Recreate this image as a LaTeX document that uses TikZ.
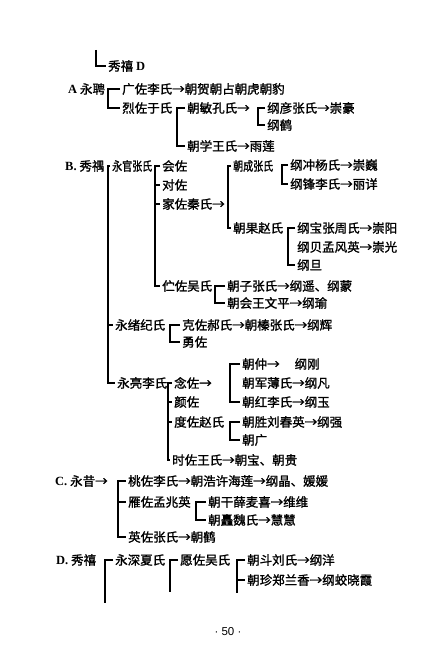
\documentclass[tikz,border=0pt]{standalone}
\usepackage{graphicx}
\usepackage{fontspec}
\setmainfont{Liberation Serif}
\newfontfamily\cjk{Noto Sans CJK SC}[FakeBold=1.4]
\newfontfamily\pagefont{Liberation Sans}
\newcommand{\lbl}[1]{{\rmfamily\bfseries #1}}
\newcommand{\narrow}[1]{\scalebox{0.8}[1]{#1}}

\tikzset{
  member/.style={anchor=west, inner xsep=2pt, inner ysep=1pt, font=\cjk\fontsize{12.5}{14}\selectfont},
  brk/.style={line width=1.3pt},
}

\begin{document}
\begin{tikzpicture}[x=1pt,y=-1pt]
    \useasboundingbox (0,0) rectangle (436,650);
    % columns of the brackets
    \coordinate (cA) at (108,0);
    \coordinate (cA2) at (177,0);
    \coordinate (cA21) at (258,0);
    \coordinate (cB) at (108,0);
    \coordinate (cB1) at (155,0);
    \coordinate (cB13) at (228,0);
    \coordinate (cB131) at (282,0);
    \coordinate (cB132) at (288,0);
    \coordinate (cB14) at (215,0);
    \coordinate (cB2) at (170,0);
    \coordinate (cB3) at (168,0);
    \coordinate (cB31) at (230,0);
    \coordinate (cB33) at (230,0);
    \coordinate (cC) at (118,0);
    \coordinate (cC2) at (196,0);
    \coordinate (cD111) at (237,0);

    % top
    \coordinate (topL) at (96,50);
    \node[member] (topD) at (106,66) {秀禧 \lbl{D}};

    % A
    \node[member] (A) at (66,89) {\lbl{A} 永聘};
    \node[member] (A1) at (120,89) {广佐李氏→朝贺朝占朝虎朝豹};
    \node[member] (A2) at (120,108) {烈佐于氏};
    \node[member] (A21) at (185,108) {朝敏孔氏→};
    \node[member] (A22) at (185,146) {朝学王氏→雨莲};
    \node[member] (A211) at (265,108) {纲彦张氏→崇豪};
    \node[member] (A212) at (265,125) {纲鹤};

    % B
    \node[member] (B) at (63,166) {\lbl{B.} 秀禑};
    \node[member] (B1) at (110,166) {\narrow{永官张氏}};
    \node[member] (B2) at (113,325) {永绪纪氏};
    \node[member] (B3) at (115,383) {永亮李氏};
    \node[member] (B11) at (160,166) {会佐};
    \node[member] (B12) at (160,185) {对佐};
    \node[member] (B13) at (160,204) {家佐秦氏→};
    \node[member] (B14) at (160,286) {伫佐吴氏};
    \node[member] (B131) at (231,166) {\narrow{朝成张氏}};
    \node[member] (B132) at (231,228) {朝果赵氏};
    \node[member] (B1311) at (288,165) {纲冲杨氏→崇巍};
    \node[member] (B1312) at (288,184) {纲锋李氏→丽详};
    \node[member] (B1321) at (295,228) {纲宝张周氏→崇阳};
    \node[member] (B1322) at (295,247) {纲贝孟风英→崇光};
    \node[member] (B1323) at (295,265) {纲旦};
    \node[member] (B141) at (225,286) {朝子张氏→纲遥、纲蒙};
    \node[member] (B142) at (225,303) {朝会王文平→纲瑜};
    \node[member] (B21) at (180,325) {克佐郝氏→朝榛张氏→纲辉};
    \node[member] (B22) at (180,342) {勇佐};
    \node[member] (B31) at (172,383) {念佐→};
    \node[member] (B32) at (172,402) {颜佐};
    \node[member] (B33) at (172,422) {度佐赵氏};
    \node[member] (B34) at (170,460) {时佐王氏→朝宝、朝贵};
    \node[member] (B311) at (240,364) {朝仲→\hspace{1.2em}纲刚};
    \node[member] (B312) at (240,383) {朝军薄氏→纲凡};
    \node[member] (B313) at (240,402) {朝红李氏→纲玉};
    \node[member] (B331) at (240,422) {朝胜刘春英→纲强};
    \node[member] (B332) at (240,440) {朝广};

    % C
    \node[member] (C) at (53,481) {\lbl{C.} 永昔→};
    \node[member] (C1) at (126,481) {桃佐李氏→朝浩许海莲→纲晶、媛媛};
    \node[member] (C2) at (126,502) {雁佐孟兆英};
    \node[member] (C3) at (126,537) {英佐张氏→朝鹤};
    \node[member] (C21) at (206,502) {朝干薛麦喜→维维};
    \node[member] (C22) at (206,520) {朝矗魏氏→慧慧};

    % D
    \node[member] (D) at (54,560) {\lbl{D.} 秀禧};
    \node[member] (D1) at (113,560) {永深夏氏};
    \node[member] (D11) at (178,560) {愿佐吴氏};
    \node[member] (D111) at (245,560) {朝斗刘氏→纲洋};
    \node[member] (D112) at (245,580) {朝珍郑兰香→纲蛟晓霞};
    \coordinate (dD) at (105,603);
    \coordinate (dD1) at (170,592);
    \coordinate (dD11) at (237,593);

    \node[font=\pagefont\fontsize{11.5}{13}\selectfont] (page) at (228,632) {· 50 ·};

    % brackets
    \draw[brk] (topL) |- (topD.west);

    \draw[brk] (A1.west) -- (A1.west -| cA) -- (A2.west -| cA) -- (A2.west);
    \draw[brk] (A21.west) -- (A21.west -| cA2) -- (A22.west -| cA2) -- (A22.west);
    \draw[brk] (A211.west) -- (A211.west -| cA21) -- (A212.west -| cA21) -- (A212.west);

    \draw[brk] (B1.west) -- (B1.west -| cB) -- (B3.west -| cB) -- (B3.west);
    \draw[brk] (B2.west -| cB) -- (B2.west);
    \draw[brk] (B11.west) -- (B11.west -| cB1) -- (B14.west -| cB1) -- (B14.west);
    \foreach \n in {B12,B13}
      \draw[brk] (\n.west -| cB1) -- (\n.west);
    \draw[brk] (B131.west) -- (B131.west -| cB13) -- (B132.west -| cB13) -- (B132.west);
    \draw[brk] (B1311.west) -- (B1311.west -| cB131) -- (B1312.west -| cB131) -- (B1312.west);
    \draw[brk] (B1321.west) -- (B1321.west -| cB132) -- (B1323.west -| cB132) -- (B1323.west);
    \draw[brk] (B141.west) -- (B141.west -| cB14) -- (B142.west -| cB14) -- (B142.west);
    \draw[brk] (B21.west) -- (B21.west -| cB2) -- (B22.west -| cB2) -- (B22.west);
    \draw[brk] (B31.west) -- (B31.west -| cB3) -- (B34.west -| cB3) -- (B34.west);
    \foreach \n in {B32,B33}
      \draw[brk] (\n.west -| cB3) -- (\n.west);
    \draw[brk] (B311.west) -- (B311.west -| cB31) -- (B313.west -| cB31) -- (B313.west);
    \draw[brk] (B331.west) -- (B331.west -| cB33) -- (B332.west -| cB33) -- (B332.west);

    \draw[brk] (C1.west) -- (C1.west -| cC) -- (C3.west -| cC) -- (C3.west);
    \draw[brk] (C2.west -| cC) -- (C2.west);
    \draw[brk] (C21.west) -- (C21.west -| cC2) -- (C22.west -| cC2) -- (C22.west);

    \draw[brk] (D1.west) -| (dD);
    \draw[brk] (D11.west) -| (dD1);
    \draw[brk] (D111.west) -| (dD11);
    \draw[brk] (D112.west -| cD111) -- (D112.west);
\end{tikzpicture}
\end{document}
